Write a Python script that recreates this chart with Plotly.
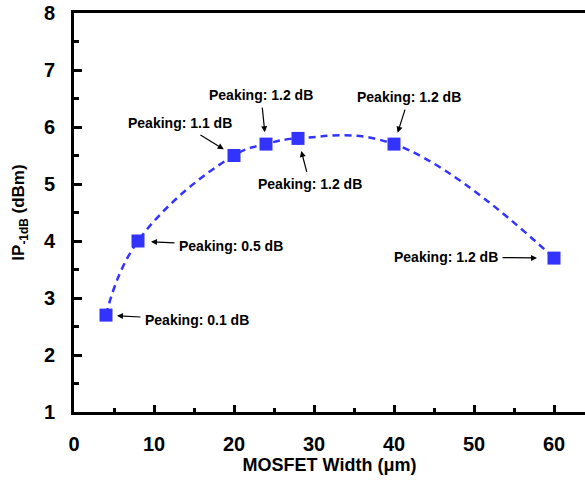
import plotly.graph_objects as go

# MOSFET width sweep and measured input-referred 1 dB compression point
width_um = [4, 8, 20, 24, 28, 40, 60]
ip1db_dbm = [2.7, 4.0, 5.5, 5.7, 5.8, 5.7, 3.7]
peaking_labels = ["Peaking: 0.1 dB", "Peaking: 0.5 dB", "Peaking: 1.1 dB",
                  "Peaking: 1.2 dB", "Peaking: 1.2 dB", "Peaking: 1.2 dB",
                  "Peaking: 1.2 dB"]

x_ticks = [0, 10, 20, 30, 40, 50, 60]
y_ticks = [1, 2, 3, 4, 5, 6, 7, 8]

# label offsets (pixels, label centre relative to the point) and arrow standoff
label_offsets = [(91, 5, 11), (93, 5, 13), (-54, -33, 12), (-5, -49, 12),
                 (12, 46, 13), (15, -47, 12), (-108, -1, 17)]

FONT = "Liberation Sans, Arial, sans-serif"
BLUE = "#3333FF"

fig = go.Figure()
fig.add_trace(go.Scatter(
    x=width_um, y=ip1db_dbm, mode="lines+markers",
    line=dict(color=BLUE, width=2.5, dash="7px,5px", shape="spline", smoothing=1.2),
    marker=dict(symbol="square", size=13, color=BLUE),
    showlegend=False,
))

for xv, yv, txt, (ax, ay, so) in zip(width_um, ip1db_dbm, peaking_labels, label_offsets):
    fig.add_annotation(
        x=xv, y=yv, text="<b>" + txt + "</b>", showarrow=True,
        ax=ax, ay=ay, axref="pixel", ayref="pixel",
        arrowhead=2, arrowsize=1, arrowwidth=1.2, arrowcolor="black",
        standoff=so, borderpad=4,
        font=dict(family=FONT, size=14, color="black"),
    )

axis_common = dict(
    showgrid=False, zeroline=False, showline=True, linecolor="black", linewidth=3,
    ticks="inside", tickcolor="black", tickwidth=2.5,
    tickfont=dict(family=FONT, size=20, color="black", weight="bold"),
)

fig.update_xaxes(
    **axis_common, range=[0, 63.875], tickvals=x_ticks, ticklen=7,
    minor=dict(dtick=5, tick0=0, ticks="inside", ticklen=4, tickwidth=2.5, tickcolor="black"),
    mirror=True, ticklabelstandoff=12,
    title=dict(text="<b>MOSFET Width (μm)</b>", standoff=3,
               font=dict(family=FONT, size=18, color="black")),
)
fig.update_yaxes(
    **axis_common, range=[1, 8], tickvals=y_ticks, ticklen=8,
    minor=dict(dtick=0.5, tick0=1, ticks="inside", ticklen=5, tickwidth=2.5, tickcolor="black"),
    ticklabelstandoff=12,
    title=dict(text="<b>IP<sub>-1dB</sub> (dBm)</b>", standoff=15,
               font=dict(family=FONT, size=17, color="black")),
)

fig.update_layout(
    width=585, height=482,
    margin=dict(l=74, r=0, t=13, b=70),
    plot_bgcolor="white", paper_bgcolor="white",
)

fig.write_html("out.html")
